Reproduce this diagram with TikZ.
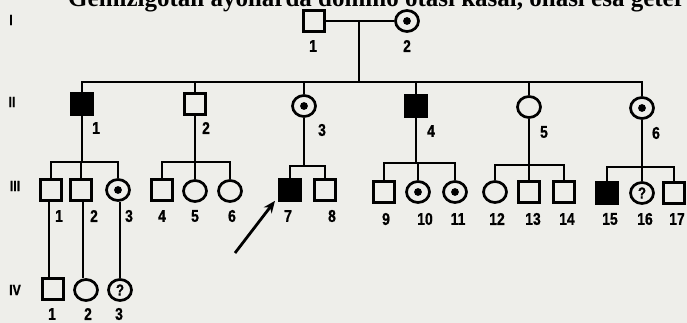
\documentclass[tikz,border=0pt]{standalone}
\usepackage{fontspec}
\setmainfont{Liberation Serif}
\newfontfamily\lblfont[FakeStretch=0.82,FakeBold=0.8]{Liberation Sans}
\usetikzlibrary{shapes.geometric,arrows.meta}
\definecolor{paper}{RGB}{238,238,234}
\tikzset{
  pedline/.style={line width=2.7pt},
  male/.style={draw, line width=2.7pt, minimum size=21pt, inner sep=0pt, fill=paper},
  female/.style={ellipse, draw, line width=2.7pt, minimum width=23pt, minimum height=21pt, inner sep=0pt, fill=paper},
  affected/.style={fill=black},
  carrier/.style={path picture={\fill[black] (path picture bounding box.center) circle (3.9pt);}},
  unknown/.style={font=\lblfont\bfseries\fontsize{16}{16}\selectfont},
  lbl/.style={font=\lblfont\bfseries\fontsize{17}{17}\selectfont, inner sep=0pt},
  gen/.style={font=\lblfont\bfseries\fontsize{15}{15}\selectfont, inner sep=0pt}
}
\begin{document}
\begin{tikzpicture}[x=1pt,y=-1pt]
\useasboundingbox (0,0) rectangle (687,323);
\fill[paper] (0,0) rectangle (687,323);
\begin{scope}
\clip (0,0) rectangle (687,323);
\node[anchor=base west, inner sep=0pt, font=\bfseries\fontsize{25}{25}\selectfont] (caption) at (68,7)
  {Gemizigotali ayollarda domino otasi kasal, onasi esa geter};
\end{scope}

% generation markers
\node[gen] (gI) at (11,20) {I};
\node[gen] (gII) at (12,102) {II};
\node[gen] (gIII) at (15,186) {III};
\node[gen] (gIV) at (15,290) {IV};

% generation I
\node[male] (I1) at (314,21) {};
\node[female, carrier] (I2) at (407,21) {};
\node[lbl] (lI1) at (313,46) {1};
\node[lbl] (lI2) at (407,46) {2};
\draw[pedline] (I1.east) -- (I2.west);
\coordinate (mI) at (359,21);
\coordinate (sII) at (359,82);

% generation II
\node[male, affected, minimum size=22pt] (II1) at (82,104) {};
\node[male, minimum size=21.5pt] (II2) at (195,104) {};
\node[female, carrier] (II3) at (304,106) {};
\node[male, affected, minimum size=22pt] (II4) at (416,106) {};
\node[female] (II5) at (529,107) {};
\node[female, carrier] (II6) at (642,108) {};
\node[lbl] (lII1) at (96,128) {1};
\node[lbl] (lII2) at (206,128) {2};
\node[lbl] (lII3) at (322,130) {3};
\node[lbl] (lII4) at (431,131) {4};
\node[lbl] (lII5) at (544,132) {5};
\node[lbl] (lII6) at (656,133) {6};
\draw[pedline] (mI) -- (sII);
\draw[pedline] (II1.north) |- (sII) -| (II6.north);
\foreach \n in {II2,II3,II4,II5} \draw[pedline] (\n.north) -- (\n.north |- sII);

% generation III
\node[male] (III1) at (51,190) {};
\node[male] (III2) at (81,190) {};
\node[female, carrier] (III3) at (118,190) {};
\node[male] (III4) at (162,190) {};
\node[female] (III5) at (195,191) {};
\node[female] (III6) at (230,191) {};
\node[male, affected] (III7) at (290,190) {};
\node[male] (III8) at (325,190) {};
\node[male] (III9) at (384,192) {};
\node[female, carrier] (III10) at (418,192) {};
\node[female, carrier] (III11) at (455,192) {};
\node[female] (III12) at (495,192) {};
\node[male] (III13) at (529,192) {};
\node[male] (III14) at (564,192) {};
\node[male, affected] (III15) at (607,193) {};
\node[female, unknown] (III16) at (642,193) {?};
\node[male] (III17) at (674,193) {};

\foreach \i/\x/\y in {1/59/216, 2/94/216, 3/129/216, 4/162/216, 5/195/216, 6/232/216,
  7/288/216, 8/332/216, 9/386/219, 10/425/219, 11/458/219, 12/497/219, 13/533/219,
  14/567/219, 15/610/219, 16/645/219, 17/677/219}
  \node[lbl] (lIII\i) at (\x,\y) {\i};

% sibships of generation III
\coordinate (s1) at (II1.south |- 0,162);
\draw[pedline] (II1.south) -- (s1);
\draw[pedline] (III1.north) |- (s1) -| (III3.north);
\draw[pedline] (III2.north) -- (III2.north |- s1);

\coordinate (s2) at (II2.south |- 0,162);
\draw[pedline] (II2.south) -- (s2);
\draw[pedline] (III4.north) |- (s2) -| (III6.north);
\draw[pedline] (III5.north) -- (III5.north |- s2);

\coordinate (s3) at (II3.south |- 0,166);
\draw[pedline] (II3.south) -- (s3);
\draw[pedline] (III7.north) |- (s3) -| (III8.north);

\coordinate (s4) at (II4.south |- 0,163);
\draw[pedline] (II4.south) -- (s4);
\draw[pedline] (III9.north) |- (s4) -| (III11.north);
\draw[pedline] (III10.north) -- (III10.north |- s4);

\coordinate (s5) at (II5.south |- 0,165);
\draw[pedline] (II5.south) -- (s5);
\draw[pedline] (III12.north) |- (s5) -| (III14.north);
\draw[pedline] (III13.north) -- (III13.north |- s5);

\coordinate (s6) at (II6.south |- 0,167);
\draw[pedline] (II6.south) -- (s6);
\draw[pedline] (III15.north) |- (s6) -| (III17.north);
\draw[pedline] (III16.north) -- (III16.north |- s6);

% generation IV
\node[male] (IV1) at (53,289) {};
\node[female] (IV2) at (86,290) {};
\node[female, unknown] (IV3) at (120,290) {?};
\node[lbl] (lIV1) at (52,314) {1};
\node[lbl] (lIV2) at (88,314) {2};
\node[lbl] (lIV3) at (119,314) {3};
\draw[pedline] ([xshift=-2pt]III1.south) -- ([xshift=-2pt]III1.south |- IV1.north);
\draw[pedline] ([xshift=2pt]III2.south) -- ([xshift=2pt]III2.south |- IV2.north);
\draw[pedline] ([xshift=2pt]III3.south) -- ([xshift=2pt]III3.south |- IV3.north);

% proband arrow
\coordinate (pa) at (235,253);
\draw[line width=2.8pt, -{Stealth[length=12pt,width=10pt]}] (pa) -- ([xshift=-15pt,yshift=1pt]III7.south);
\end{tikzpicture}
\end{document}
